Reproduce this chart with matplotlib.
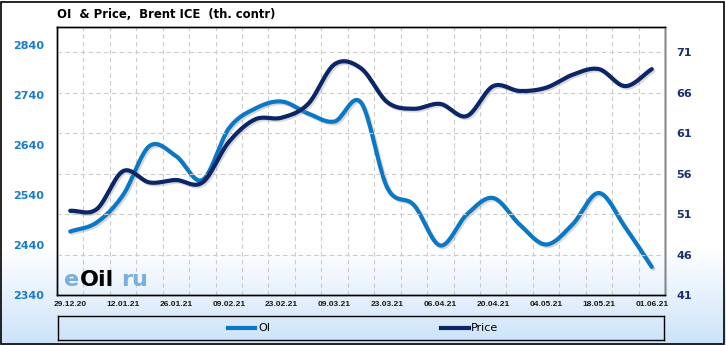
import numpy as np
import matplotlib.pyplot as plt
import matplotlib.patheffects as pe
from matplotlib.patches import Rectangle

# weekly dates (every second one is labelled)
dates = ['29.12.20', '05.01.21', '12.01.21', '19.01.21', '26.01.21', '02.02.21',
         '09.02.21', '16.02.21', '23.02.21', '02.03.21', '09.03.21', '16.03.21',
         '23.03.21', '30.03.21', '06.04.21', '13.04.21', '20.04.21', '27.04.21',
         '04.05.21', '11.05.21', '18.05.21', '25.05.21', '01.06.21']

oi = [2467, 2485, 2540, 2638, 2618, 2570, 2673, 2713, 2727, 2703, 2687, 2725,
      2554, 2520, 2439, 2501, 2534, 2481, 2441, 2481, 2544, 2475, 2396]

price = [51.4, 51.6, 56.3, 54.9, 55.2, 54.9, 59.9, 62.7, 62.9, 64.6, 69.5, 69.0,
         64.8, 64.0, 64.6, 63.1, 66.8, 66.2, 66.6, 68.2, 68.9, 66.8, 68.9]

oi_ticks = [2340, 2440, 2540, 2640, 2740, 2840]
price_ticks = [41, 46, 51, 56, 61, 66, 71]

OI_COLOR = '#0b78c6'
PRICE_COLOR = '#0c2566'


def smooth(y, n=20):
    # Catmull-Rom curve through the points (just for drawing)
    y = np.asarray(y, dtype=float)
    p = np.concatenate([[2 * y[0] - y[1]], y, [2 * y[-1] - y[-2]]])
    xs, ys = [], []
    t = np.linspace(0, 1, n, endpoint=False)
    for i in range(len(y) - 1):
        p0, p1, p2, p3 = p[i], p[i + 1], p[i + 2], p[i + 3]
        seg = 0.5 * (2 * p1 + (-p0 + p2) * t + (2 * p0 - 5 * p1 + 4 * p2 - p3) * t ** 2
                     + (-p0 + 3 * p1 - 3 * p2 + p3) * t ** 3)
        xs.append(i + t)
        ys.append(seg)
    xs.append([len(y) - 1])
    ys.append([y[-1]])
    return np.concatenate(xs), np.concatenate(ys)


fig = plt.figure(figsize=(7.26, 3.45), dpi=100)

# background: white, fading to light blue near the bottom
bg = fig.add_axes([0, 0, 1, 1], zorder=-10)
h = np.linspace(0, 1, 345)
f = np.clip(h / 0.28, 0, 1)[:, None]
col_bot = np.array([0.80, 0.89, 0.98])
grad = np.ones((345, 1, 3))
grad[:, 0, :] = col_bot * (1 - f) + f
bg.imshow(grad, aspect='auto', origin='lower', extent=[0, 1, 0, 1])
bg.set_xlim(0, 1)
bg.set_ylim(0, 1)
bg.axis('off')
bg.add_patch(Rectangle((0.002, 0.004), 0.995, 0.99, fill=False, ec='black', lw=1.2))

ax = fig.add_axes([57 / 726, 50 / 345, 608 / 726, 268 / 345])
ax.patch.set_alpha(0)
ax2 = ax.twinx()

x = np.arange(len(dates))
ax.set_xlim(-0.5, len(dates) - 0.5)
ax.set_ylim(2340, 2876)
ax2.set_ylim(41, 74.1)

# grid lines
for k in range(1, len(dates)):
    ax.axvline(k - 0.5, color='#cccccc', lw=0.8, ls=(0, (4, 3)), zorder=0)
for v in price_ticks[1:]:
    ax2.axhline(v, color='#cccccc', lw=0.8, ls=(0, (4, 3)), zorder=0)

shadow = [pe.SimpleLineShadow(offset=(1.2, -1.2), shadow_color='#909090', alpha=0.35), pe.Normal()]
sx, sy = smooth(oi)
ax.plot(sx, sy, color=OI_COLOR, lw=3, solid_capstyle='round', path_effects=shadow, zorder=3)
px, py = smooth(price)
ax2.plot(px, py, color=PRICE_COLOR, lw=3, solid_capstyle='round', path_effects=shadow, zorder=3)

ax.set_xticks(x[::2])
ax.set_xticklabels(dates[::2], fontsize=6, fontweight='bold', family='Liberation Sans', color='#1a1a1a')
ax.set_yticks(oi_ticks)
ax.set_yticklabels([str(v) for v in oi_ticks], fontsize=8, fontweight='bold', color='#1a7cc8')
ax2.set_yticks(price_ticks)
ax2.set_yticklabels([str(v) for v in price_ticks], fontsize=8, fontweight='bold', color='#1b2d6b')
ax.tick_params(axis='x', length=0, pad=4)
ax.tick_params(axis='y', length=0, pad=9)
ax2.tick_params(axis='y', length=0, pad=8)
for a in (ax, ax2):
    for s in a.spines.values():
        s.set_color('black')
        s.set_linewidth(1)
ax2.spines['right'].set_color('#888888')

# title
fig.text(57 / 726, 1 - 15 / 345, 'OI  & Price,  Brent ICE  (th. contr)', fontsize=8.4,
         fontweight='bold', va='center', ha='left')

# watermark
wm = dict(transform=ax.transAxes, fontsize=16, fontweight='bold', va='baseline')
ax.text(0.012, 0.035, 'e', color='#7aaedb', **wm)
ax.text(0.037, 0.035, 'Oil', color='black', **wm)
ax.text(0.105, 0.035, 'ru', color='#7aaedb', **wm)

# legend box
leg = fig.add_axes([58 / 726, 5 / 345, 606 / 726, 24 / 345])
leg.patch.set_alpha(0)
leg.set_xlim(0, 606)
leg.set_ylim(0, 24)
leg.set_xticks([])
leg.set_yticks([])
for s in leg.spines.values():
    s.set_linewidth(1)
leg.plot([170, 197], [12, 12], color=OI_COLOR, lw=3)
leg.text(200, 12, 'OI', fontsize=8, va='center')
leg.plot([383, 411], [12, 12], color=PRICE_COLOR, lw=3)
leg.text(413, 12, 'Price', fontsize=8, va='center')

fig.savefig('out.png', dpi=100)
